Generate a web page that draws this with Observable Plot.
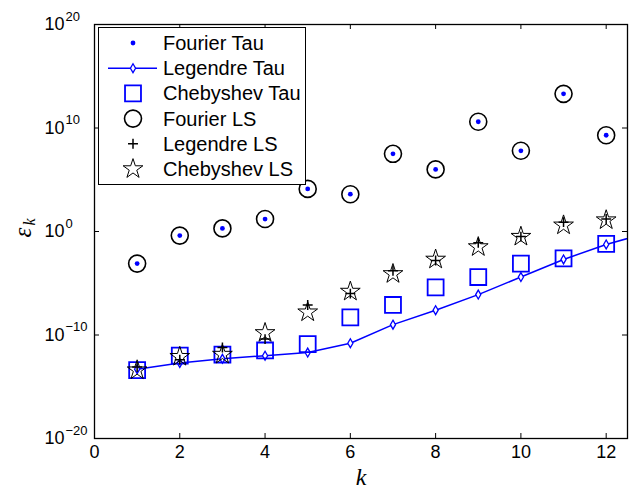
<!DOCTYPE html>
<html><head><meta charset="utf-8">
<script src="https://cdn.jsdelivr.net/npm/d3@7"></script>
<script src="https://cdn.jsdelivr.net/npm/@observablehq/plot@0.6"></script>
<style>body{margin:0;background:#fff;} #chart{width:634px;height:497px;}</style>
</head><body><div id="chart"></div><script>
// ---- data ----
const k = [1, 2, 3, 4, 5, 6, 7, 8, 9, 10, 11, 12];
const fourierTau = [7.9e-4, 0.4, 2.0, 16, 1.3e4, 4e3, 3.2e7, 1e6, 4e10, 6.3e7, 2e13, 2e9];
const fourierLS  = [7.9e-4, 0.4, 2.0, 16, 1.3e4, 4e3, 3.2e7, 1e6, 4e10, 6.3e7, 2e13, 2e9];
const kLegTau = [1, 2, 3, 4, 5, 6, 7, 8, 9, 10, 11, 12, 13];
const legendreTau = [5e-14, 2e-13, 5e-13, 1e-12, 2e-12, 1.6e-11, 1e-9, 2.5e-8, 8e-7, 4e-5, 2e-3, 5.6e-2, 0.8];
const chebyshevTau = [4e-14, 1e-12, 1.3e-12, 3.2e-12, 1.3e-11, 5e-9, 8e-8, 4e-6, 4e-5, 8e-4, 2.5e-3, 6.3e-2];
const legendreLS = [8e-14, 4e-13, 6.3e-12, 4e-11, 8e-8, 1e-6, 1.6e-4, 1.6e-3, 8e-2, 0.32, 8, 16];
const chebyshevLS = [4e-14, 8e-13, 1.3e-12, 1.6e-10, 1.6e-8, 1.6e-6, 8e-5, 2e-3, 3.2e-2, 0.32, 4, 12.6];
const xTicks = [0, 2, 4, 6, 8, 10, 12];
const yTicks = [1e-20, 1e-10, 1, 1e10, 1e20];
const yTickExp = ["\u221220", "\u221210", "0", "10", "20"];
const legendLabels = ["Fourier Tau", "Legendre Tau", "Chebyshev Tau", "Fourier LS", "Legendre LS", "Chebyshev LS"];

const W = 634, H = 497, mL = 94, mR = 7, mT = 24, mB = 59;
const fw = W - mL - mR, fh = H - mT - mB;
const BLUE = "#0000ff";
const pts = (xs, ys) => xs.map((x, i) => ({x, y: ys[i]}));
const yTickTable = yTicks.map((v, i) => ({v, e: yTickExp[i]}));
const PLUS_R = 3.3;

const plot = Plot.plot({
  width: W, height: H,
  marginLeft: mL, marginRight: mR, marginTop: mT, marginBottom: mB,
  x: {domain: [0, 12.5], axis: null},
  y: {type: "log", domain: [1e-20, 1e20], axis: null},
  style: {fontFamily: "'Liberation Sans', Arial, sans-serif", background: "white", overflow: "visible", color: "black"},
  marks: [
    Plot.line(pts(kLegTau, legendreTau), {x: "x", y: "y", stroke: BLUE, strokeWidth: 1.5, clip: true}),
    Plot.dot(pts(k, legendreTau), {x: "x", y: "y", symbol: "diamond", r: 2.7, stroke: BLUE, fill: "white", strokeWidth: 1.3}),
    Plot.dot(pts(k, chebyshevTau), {x: "x", y: "y", symbol: "square", r: 9, stroke: BLUE, fill: "none", strokeWidth: 1.8}),
    Plot.dot(pts(k, fourierLS), {x: "x", y: "y", symbol: "circle", r: 8.5, stroke: "black", fill: "none", strokeWidth: 1.6}),
    Plot.dot(pts(k, chebyshevLS), {x: "x", y: "y", symbol: "star", r: 6.2, stroke: "black", fill: "none", strokeWidth: 1}),
    Plot.dot(pts(k, legendreLS), {x: "x", y: "y", symbol: "plus", r: PLUS_R, stroke: "black", strokeWidth: 1.5}),
    Plot.dot(pts(k, fourierTau), {x: "x", y: "y", symbol: "circle", r: 2.4, fill: BLUE, stroke: "none"}),
    // ticks (inward, all four sides)
    Plot.tickX(xTicks, {x: d => d, stroke: "black", insetTop: fh - 5}),
    Plot.tickX(xTicks, {x: d => d, stroke: "black", insetBottom: fh - 5}),
    Plot.tickY(yTicks, {y: d => d, stroke: "black", insetRight: fw - 5}),
    Plot.tickY(yTicks, {y: d => d, stroke: "black", insetLeft: fw - 5}),
    Plot.frame({stroke: "black", strokeWidth: 1.3}),
    // tick labels
    Plot.text(xTicks, {x: d => d, text: d => String(d), frameAnchor: "bottom", dy: 19, fontSize: 18}),
    Plot.text(yTickTable, {y: "v", text: () => "10", frameAnchor: "left", textAnchor: "end", dx: -30, fontSize: 18}),
    Plot.text(yTickTable, {y: "v", text: "e", frameAnchor: "left", textAnchor: "start", dx: -29, dy: -8, fontSize: 13}),
    // axis labels
    Plot.text(["k"], {text: d => d, frameAnchor: "bottom", dy: 46, fontSize: 24, fontFamily: "'Liberation Serif', serif", fontStyle: "italic"}),
    Plot.text(["\u03b5"], {y: () => 1, text: d => d, frameAnchor: "left", dx: -72, dy: 6, rotate: -90, fontSize: 25, fontFamily: "'Liberation Serif', serif", fontStyle: "italic"}),
    Plot.text(["k"], {y: () => 1, text: d => d, frameAnchor: "left", dx: -65, dy: -6, rotate: -90, fontSize: 16, fontFamily: "'Liberation Serif', serif", fontStyle: "italic"})
  ]
});
document.getElementById("chart").appendChild(plot);

// ---- legend drawn inside the axes ----
const svg = d3.select(plot);
const lg = svg.append("g").attr("font-family", "'Liberation Sans', Arial, sans-serif").attr("text-anchor", "start");
const bx = 98, by = 27, bw = 207, bh = 157, rowH = 25.2, row0 = 43, mx = 133, tx = 163;
lg.append("rect").attr("x", bx + 0.5).attr("y", by + 0.5).attr("width", bw).attr("height", bh)
  .attr("fill", "white").attr("stroke", "black").attr("stroke-width", 1);
const sym = (type, r) => d3.symbol(type, r * r * Math.PI)();
legendLabels.forEach((label, i) => {
  const cy = row0 + i * rowH;
  const g = lg.append("g").attr("transform", `translate(${mx},${cy})`);
  if (i === 0) g.append("circle").attr("r", 2.4).attr("fill", BLUE);
  if (i === 1) {
    g.append("line").attr("x1", -25).attr("x2", 24).attr("stroke", BLUE).attr("stroke-width", 1.5);
    g.append("path").attr("d", sym(d3.symbolDiamond, 2.7)).attr("stroke", BLUE).attr("fill", "white").attr("stroke-width", 1.3);
  }
  if (i === 2) g.append("path").attr("d", sym(d3.symbolSquare, 9)).attr("stroke", BLUE).attr("fill", "none").attr("stroke-width", 1.8);
  if (i === 3) g.append("circle").attr("r", 8.5).attr("stroke", "black").attr("fill", "none").attr("stroke-width", 1.6);
  if (i === 4) g.append("path").attr("d", sym(d3.symbolPlus, PLUS_R)).attr("stroke", "black").attr("fill", "none").attr("stroke-width", 1.5);
  if (i === 5) g.append("path").attr("d", sym(d3.symbolStar, 6.2)).attr("stroke", "black").attr("fill", "none").attr("stroke-width", 1);
  lg.append("text").attr("x", tx).attr("y", cy).attr("dy", "0.35em").attr("font-size", 20).attr("fill", "black").attr("text-anchor", "start").text(label);
});
</script></body></html>
